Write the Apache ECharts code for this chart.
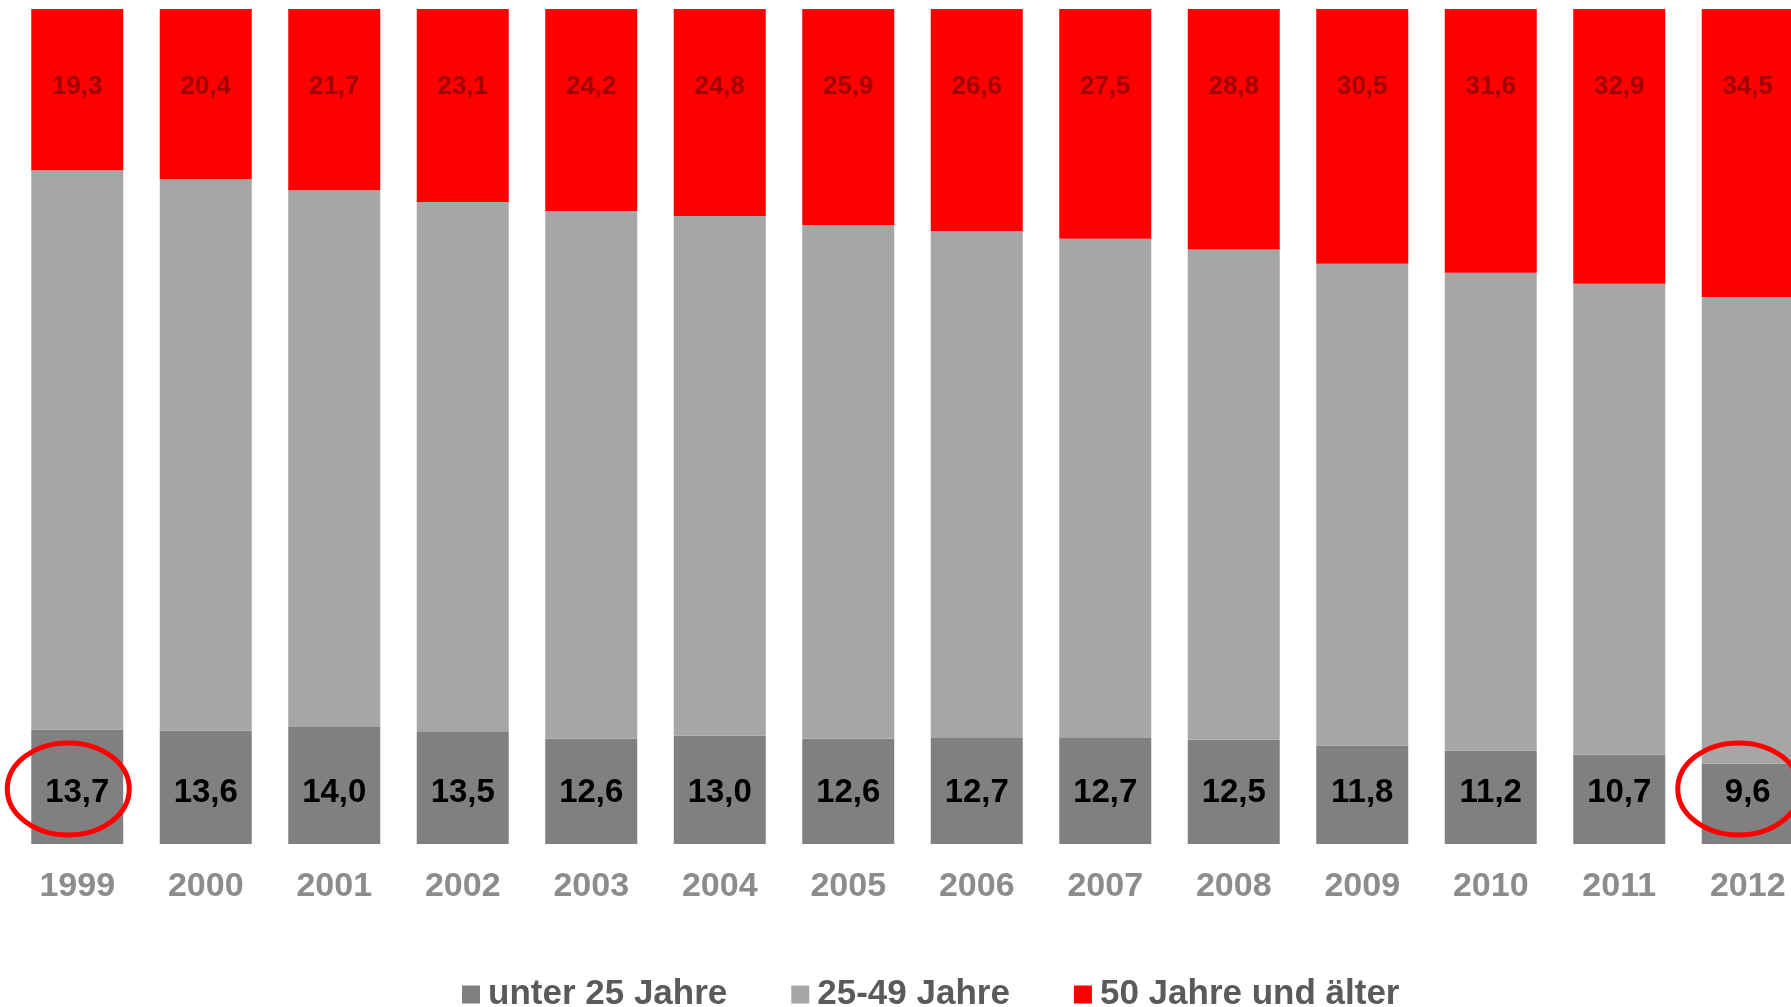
<!DOCTYPE html>
<html lang="de" style="height: 100%">
<head>
  <meta charset="utf-8">
</head>
<body style="height: 100%; margin: 0; background: #fff; overflow: hidden">
  <!-- etwas breiter als das Fenster: der letzte Balken ist im Original angeschnitten -->
  <div id="container" style="width: 1812px; height: 1007px"></div>

  <script type="text/javascript" src="https://fastly.jsdelivr.net/npm/echarts@6/dist/echarts.min.js"></script>
  <script type="text/javascript">
	// Anteile in % je Altersgruppe
	var years = ['1999','2000','2001','2002','2003','2004','2005','2006','2007','2008','2009','2010','2011','2012'];
	var under25 = [13.7, 13.6, 14.0, 13.5, 12.6, 13.0, 12.6, 12.7, 12.7, 12.5, 11.8, 11.2, 10.7, 9.6];
	var mid2549 = [67.0, 66.0, 64.3, 63.4, 63.2, 62.2, 61.5, 60.7, 59.8, 58.7, 57.7, 57.2, 56.4, 55.9];
	var over50  = [19.3, 20.4, 21.7, 23.1, 24.2, 24.8, 25.9, 26.6, 27.5, 28.8, 30.5, 31.6, 32.9, 34.5];
	var seriesNames = ['unter 25 Jahre', '25-49 Jahre', '50 Jahre und älter'];
	var circled = ['1999', '2012']; // rot eingekreiste Werte

	var fmt = function (p) { return p.value.toFixed(1).replace('.', ','); };
	var font = 'Liberation Sans, Arial, sans-serif';

	var dom = document.getElementById('container');
	var myChart = echarts.init(dom, null, { renderer: 'canvas' });

	var option = {
	  animation: false,
	  grid: { left: 13, right: 0, top: 9, bottom: 163 },
	  legend: {
	    data: seriesNames,
	    left: 457, top: 972,
	    itemWidth: 18, itemHeight: 18, itemGap: 64,
	    icon: 'rect',
	    textStyle: { fontFamily: font, fontWeight: 'bold', fontSize: 35, color: '#5a5a5a', padding: [0, 0, 0, 3] }
	  },
	  xAxis: {
	    type: 'category',
	    data: years,
	    axisLine: { show: false },
	    axisTick: { show: false },
	    axisLabel: { fontFamily: font, fontWeight: 'bold', fontSize: 34, color: '#8c8c8c', margin: 26 }
	  },
	  yAxis: { type: 'value', min: 0, max: 100, show: false },
	  series: [
	    {
	      name: seriesNames[0], type: 'bar', stack: 'a', barWidth: 92,
	      data: under25,
	      itemStyle: { color: '#808080' },
	      label: { show: true, position: 'insideBottom', distance: 35, formatter: fmt,
	        fontFamily: font, fontWeight: 'bold', fontSize: 33, color: '#000' }
	    },
	    {
	      name: seriesNames[1], type: 'bar', stack: 'a',
	      data: mid2549,
	      itemStyle: { color: '#a6a6a6' }
	    },
	    {
	      name: seriesNames[2], type: 'bar', stack: 'a',
	      data: over50,
	      itemStyle: { color: '#ff0000' },
	      label: { show: true, position: 'insideTop', distance: 65, formatter: fmt,
	        fontFamily: font, fontWeight: 'bold', fontSize: 26, color: '#a00000' }
	    }
	  ]
	};
	myChart.setOption(option);

	// Ellipsen um die markierten Werte, Lage über die Achsen berechnet
	var rings = circled.map(function (y) {
	  var c = myChart.convertToPixel({ seriesIndex: 0 }, [y, 6.6]);
	  return {
	    type: 'ellipse',
	    shape: { cx: c[0] - 9, cy: c[1], rx: 61, ry: 46 },
	    style: { fill: null, stroke: '#ff0000', lineWidth: 5 },
	    z: 100
	  };
	});
	myChart.setOption({ graphic: rings });
  </script>
</body>
</html>
